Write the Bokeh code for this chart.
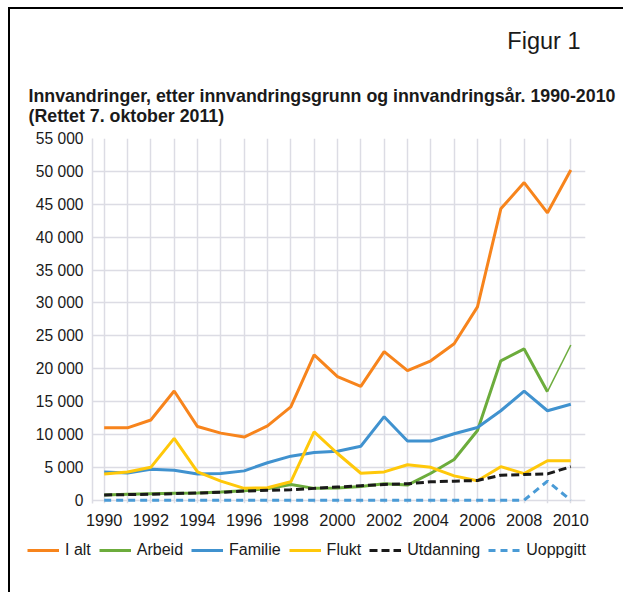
from bokeh.plotting import figure
from bokeh.models import Range1d, FixedTicker, Legend, LegendItem, Title
from bokeh.embed import file_html
from bokeh.resources import INLINE

years = list(range(1990, 2011))
i_alt = [11000, 11000, 12200, 16600, 11200, 10200, 9600, 11300, 14200, 22100, 18800,
         17300, 22600, 19700, 21200, 23800, 29400, 44300, 48300, 43700, 50200]
arbeid = [800, 900, 1000, 1050, 1100, 1250, 1450, 1750, 2400, 1800, 1850,
          2100, 2500, 2300, 4100, 6200, 10600, 21200, 23000, 16500, 23600]
familie = [4300, 4150, 4700, 4560, 4000, 4050, 4460, 5700, 6700, 7250, 7450,
           8200, 12700, 9000, 9000, 10100, 11050, 13600, 16600, 13600, 14600]
flukt = [4000, 4300, 5000, 9400, 4300, 2900, 1800, 1900, 2800, 10400, 7100,
         4100, 4300, 5400, 5000, 3700, 2950, 5100, 4050, 6000, 6000]
utdanning = [800, 850, 900, 1000, 1100, 1200, 1400, 1500, 1600, 1800, 2000,
             2200, 2400, 2500, 2800, 2900, 3000, 3800, 3900, 4000, 5100]
uoppgitt = [0, 0, 0, 0, 0, 0, 0, 0, 0, 0, 0,
            0, 0, 0, 0, 0, 0, 0, 0, 2900, 0]

series_names = ["I alt", "Arbeid", "Familie", "Flukt", "Utdanning", "Uoppgitt"]
series_values = [i_alt, arbeid, familie, flukt, utdanning, uoppgitt]
x_ticks = [1990, 1992, 1994, 1996, 1998, 2000, 2002, 2004, 2006, 2008, 2010]
y_ticks = [0, 5000, 10000, 15000, 20000, 25000, 30000, 35000, 40000, 45000, 50000, 55000]
y_tick_labels = ["0", "5 000", "10 000", "15 000", "20 000", "25 000", "30 000",
                 "35 000", "40 000", "45 000", "50 000", "55 000"]

FONT = "Liberation Sans"
TXT = "#1a1a1a"
GRID = "#dcdce4"
COLORS = ["#f7841c", "#6cac3c", "#4092cf", "#ffc80a", "#1a1a1a", "#4a9bd6"]
DASHES = ["solid", "solid", "solid", "solid", "8 4", "7 5"]
W = 615
HC = 522
HL = 63

p = figure(width=W, height=HC, output_backend="svg", toolbar_location=None,
           x_range=Range1d(1989.5, 2010.63), y_range=Range1d(-500, 55000),
           min_border_left=82, min_border_right=40, min_border_top=129,
           min_border_bottom=HC - 494, title="Figur 1",
           styles={"margin-left": "8px", "margin-top": "7px",
                   "border-left": "2px solid black", "border-top": "2px solid black"})
p.outline_line_color = None
p.background_fill_color = "white"
p.border_fill_color = "white"

p.title.align = "right"
p.title.offset = 5
p.title.standoff = 33
p.title.text_font = FONT
p.title.text_font_size = "23.5px"
p.title.text_font_style = "normal"
p.title.text_color = TXT

t_main = Title(text="Innvandringer, etter innvandringsgrunn og innvandringsår. 1990-2010\n(Rettet 7. oktober 2011)",
               align="left", offset=-64, standoff=26, text_font=FONT,
               text_font_size="17.8px", text_font_style="bold", text_color=TXT,
               text_line_height=1.0)
p.add_layout(t_main, "above")

p.xaxis.ticker = FixedTicker(ticks=x_ticks)
p.yaxis.ticker = FixedTicker(ticks=y_ticks)
p.yaxis.major_label_overrides = {t: l for t, l in zip(y_ticks, y_tick_labels)}
for ax in (p.xaxis[0], p.yaxis[0]):
    ax.major_tick_line_color = None
    ax.minor_tick_line_color = None
    ax.major_label_text_font = FONT
    ax.major_label_text_color = TXT
p.xaxis.major_label_standoff = 4
p.yaxis.major_label_standoff = 3
p.xaxis.major_label_text_font_size = "16.3px"
p.yaxis.major_label_text_font_size = "15.6px"
p.xaxis.axis_line_color = None
p.yaxis.axis_line_color = GRID
p.yaxis.axis_line_width = 1.5

p.xgrid.ticker = FixedTicker(ticks=years)
p.ygrid.ticker = FixedTicker(ticks=y_ticks)
p.xgrid.grid_line_color = GRID
p.ygrid.grid_line_color = GRID
p.xgrid.grid_line_width = 1.5
p.ygrid.grid_line_width = 1.5

p.line(years, i_alt, line_color=COLORS[0], line_width=3)
p.line(years[:-1], arbeid[:-1], line_color=COLORS[1], line_width=3)
p.line(years[-2:], arbeid[-2:], line_color=COLORS[1], line_width=1.5)
p.line(years, familie, line_color=COLORS[2], line_width=3)
p.line(years, flukt, line_color=COLORS[3], line_width=3)
p.line(years, utdanning, line_color=COLORS[4], line_width=3, line_dash=DASHES[4])
p.line(years, uoppgitt, line_color=COLORS[5], line_width=3, line_dash=DASHES[5])

# legend strip (separate root below the chart); its ranges hide the series themselves
lf = figure(width=W, height=HL, output_backend="svg", toolbar_location=None,
            x_range=Range1d(0, 1), y_range=Range1d(0, 1),
            x_axis_type=None, y_axis_type=None,
            min_border_left=17, min_border_right=0, min_border_top=11, min_border_bottom=0,
            styles={"margin-left": "8px", "border-left": "2px solid black"})
lf.outline_line_color = None
lf.background_fill_color = "white"
lf.border_fill_color = "white"
items = []
for name, vals, c, d in zip(series_names, series_values, COLORS, DASHES):
    r = lf.line(years, vals, line_color=c, line_width=3, line_dash=d)
    items.append(LegendItem(label=name, renderers=[r]))
legend = Legend(items=items, orientation="horizontal", location="top_left")
legend.border_line_color = None
legend.background_fill_alpha = 0
legend.label_text_font = FONT
legend.label_text_font_size = "16px"
legend.label_text_color = TXT
legend.glyph_width = 32
legend.label_standoff = 6
legend.spacing = 8
legend.padding = 5
legend.margin = 0
lf.add_layout(legend, "center")

open("out.html", "w").write(file_html([p, lf], INLINE))
